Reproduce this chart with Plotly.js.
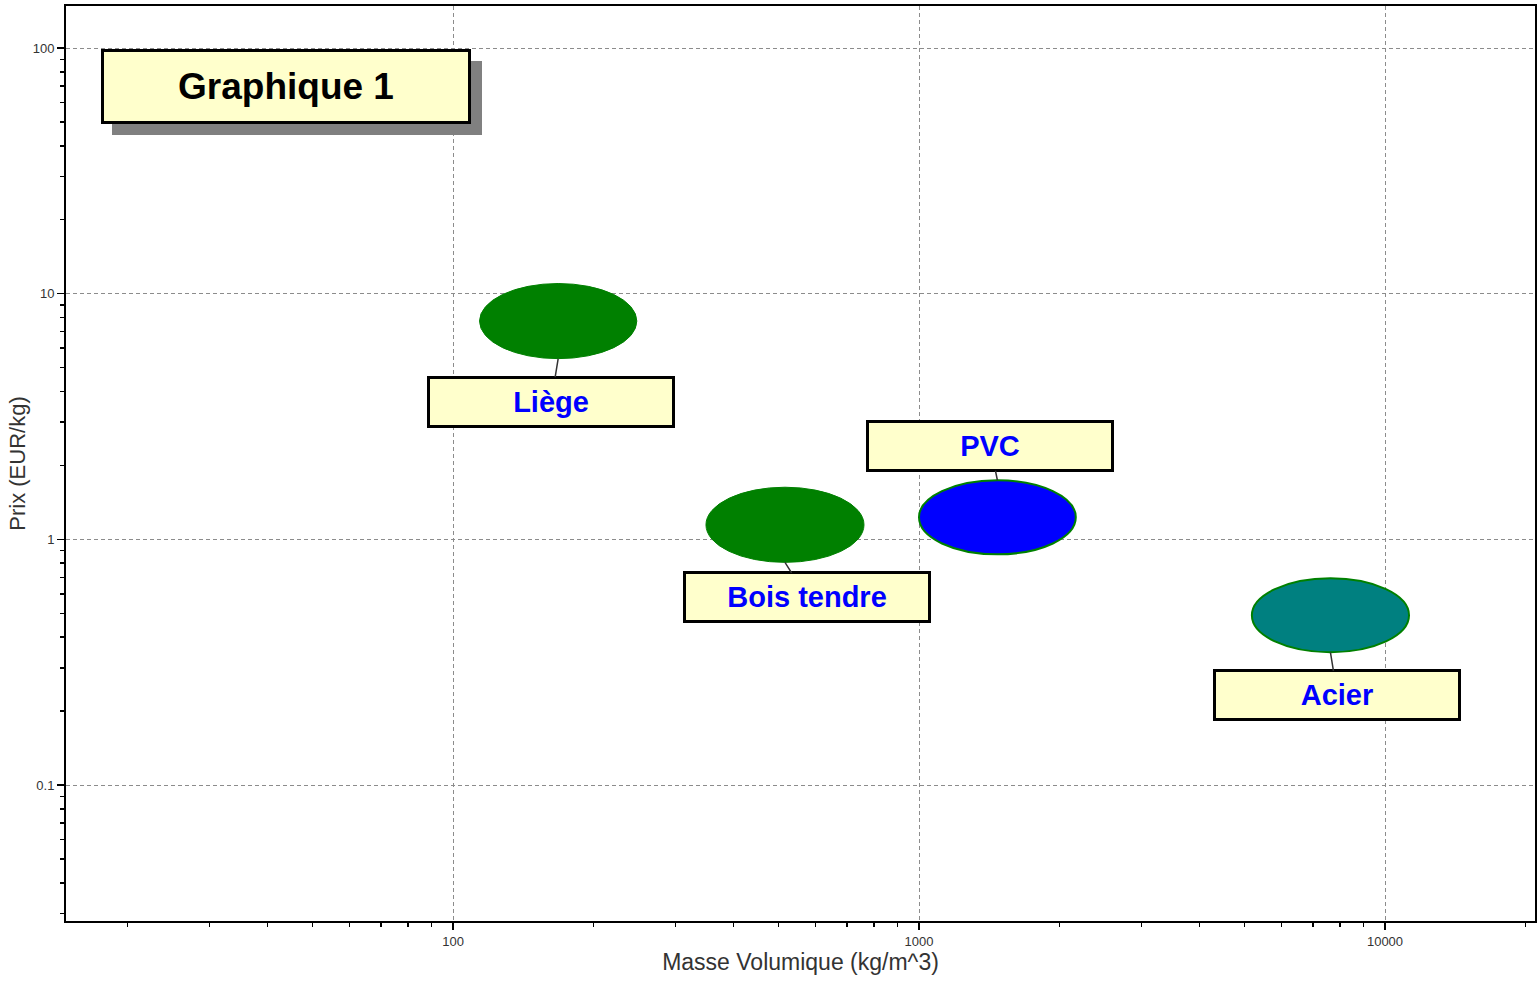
<!DOCTYPE html>
<html><head><meta charset="utf-8">
<script src="https://cdn.plot.ly/plotly-3.0.1.min.js"></script>
<style>html,body{margin:0;padding:0;background:#fff}#chart{width:1537px;height:985px}</style>
</head><body><div id="chart"></div>
<script>
// ---- data ----
const materials = ["Liège", "Bois tendre", "PVC", "Acier"];
const densityMin = [114, 349, 1000, 5180];     // kg/m^3
const densityMax = [248, 762, 2170, 11260];
const priceMin = [5.44, 0.806, 0.869, 0.347];  // EUR/kg
const priceMax = [11.0, 1.63, 1.74, 0.694];
const xTickVals = [100, 1000, 10000];
const xTickText = ["100", "1000", "10000"];
const yTickVals = [0.1, 1, 10, 100];
const yTickText = ["0.1", "1", "10", "100"];
const chartTitle = "Graphique 1";
const xTitle = "Masse Volumique (kg/m^3)";
const yTitle = "Prix (EUR/kg)";

// ---- styles ----
const fillColors = ["#008000", "#008000", "#0000FF", "#008080"];
const edgeColors = ["#008000", "#008000", "#008000", "#008000"];
const edgeWidths = [1, 1, 2, 2];
const labelSide = ["bottom", "bottom", "top", "bottom"];
const labelDx = [-7, 22, -7, 7];
const labelDy = [43, 35, -34, 43];

const L = Math.log10;
const font = "Liberation Sans, Arial, sans-serif";

const shapes = materials.map((m, i) => ({
  type: "circle", xref: "x", yref: "y",
  x0: densityMin[i], x1: densityMax[i], y0: priceMin[i], y1: priceMax[i],
  fillcolor: fillColors[i], line: {color: edgeColors[i], width: edgeWidths[i]},
  layer: "above"
}));

const labelAnns = materials.map((m, i) => ({
  xref: "x", yref: "y",
  x: (L(densityMin[i]) + L(densityMax[i])) / 2,
  y: labelSide[i] === "bottom" ? L(priceMin[i]) : L(priceMax[i]),
  text: m, showarrow: true, arrowhead: 0, arrowwidth: 1.5, arrowcolor: "#333",
  standoff: 0, ax: labelDx[i], ay: labelDy[i],
  width: 242, height: 46, borderpad: 0, borderwidth: 3, bordercolor: "#000",
  bgcolor: "#FFFFCC",
  font: {family: font, size: 29, color: "#0000FF", weight: "bold"}
}));

const titleAnns = [
  {xref: "paper", yref: "paper", x: 0.1498, y: 0.9115, xanchor: "center", yanchor: "middle",
   xshift: 11, yshift: -11,
   text: " ", showarrow: false, width: 370, height: 74, borderpad: 0, borderwidth: 0,
   bgcolor: "#808080", font: {family: font, size: 36}},
  {xref: "paper", yref: "paper", x: 0.1498, y: 0.9115, xanchor: "center", yanchor: "middle",
   text: chartTitle, showarrow: false, width: 364, height: 69, borderpad: 0, borderwidth: 3,
   bordercolor: "#000", bgcolor: "#FFFFCC",
   font: {family: font, size: 37, color: "#000", weight: "bold"}}
];

const trace = {
  type: "scatter", mode: "markers",
  x: densityMin.map((v, i) => Math.sqrt(v * densityMax[i])),
  y: priceMin.map((v, i) => Math.sqrt(v * priceMax[i])),
  text: materials, marker: {size: 1, opacity: 0}, hoverinfo: "text", showlegend: false
};

const axisCommon = {
  type: "log", ticks: "outside", ticklen: 7, tickwidth: 1.5, tickcolor: "#000",
  showline: true, linecolor: "#000", linewidth: 2, mirror: true,
  showgrid: true, gridcolor: "#8c8c8c", gridwidth: 1, griddash: "4px,3px", zeroline: false,
  tickfont: {family: font, size: 13, color: "#333"},
  minor: {ticks: "outside", ticklen: 4, tickwidth: 1.5, tickcolor: "#000", dtick: "D1", showgrid: false}
};

const layout = {
  width: 1537, height: 985,
  margin: {l: 66, r: 2, t: 6, b: 64},
  paper_bgcolor: "#fff", plot_bgcolor: "#fff",
  showlegend: false,
  xaxis: Object.assign({}, axisCommon, {
    range: [1.1695, 4.3219], tickmode: "array", tickvals: xTickVals, ticktext: xTickText,
    title: {text: xTitle, font: {family: font, size: 23, color: "#333"}, standoff: 5}
  }),
  yaxis: Object.assign({}, axisCommon, {
    range: [-1.5535, 2.171], tickmode: "array", tickvals: yTickVals, ticktext: yTickText,
    title: {text: yTitle, font: {family: font, size: 22, color: "#333"}, standoff: 1}
  }),
  shapes: shapes,
  annotations: titleAnns.concat(labelAnns)
};

Plotly.newPlot("chart", [trace], layout, {displayModeBar: false, staticPlot: true});
</script>
</body></html>
